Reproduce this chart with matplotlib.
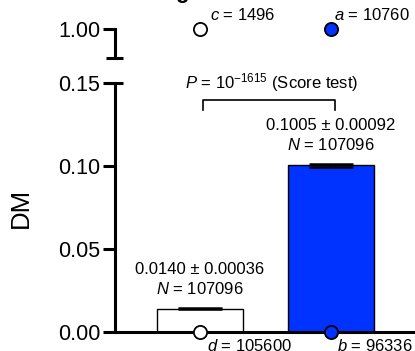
import matplotlib
matplotlib.use("Agg")
import matplotlib.pyplot as plt

plt.rcParams['font.family'] = ['Liberation Sans', 'DejaVu Sans']
plt.rcParams['mathtext.fontset'] = 'custom'
plt.rcParams['mathtext.rm'] = 'Liberation Sans'
plt.rcParams['mathtext.it'] = 'Liberation Sans:italic'

# data
groups = ['white', 'blue']
dm_values = [0.0140, 0.1005]
dm_errors = [0.00036, 0.00092]
n_values = [107096, 107096]
bar_colors = ['white', '#0033ff']
top_labels = ['c', 'a']
top_counts = [1496, 10760]
bottom_labels = ['d', 'b']
bottom_counts = [105600, 96336]
p_text = r'$\it{P}$ = 10$^{\mathrm{-1615}}$ (Score test)'
lower_ticks = [0.00, 0.05, 0.10, 0.15]
upper_ticks = [1.00]

W, H = 415, 351
fig = plt.figure(figsize=(W/100, H/100), dpi=100)

def px_axes(x0, y_top, x1, y_bot):
    return fig.add_axes([x0/W, (H-y_bot)/H, (x1-x0)/W, (y_bot-y_top)/H])

ax = px_axes(115, 83, 415, 332)
ax_top = px_axes(115, 20, 415, 58)

xs = [0, 1]
lw = 2.2
for a in (ax, ax_top):
    for s in ['top', 'right']:
        a.spines[s].set_visible(False)
    a.spines['left'].set_linewidth(lw)
    a.patch.set_alpha(0)
ax.spines['bottom'].set_linewidth(lw)
ax_top.spines['bottom'].set_visible(False)

xlim = (-0.648, 1.641)
ax.set_xlim(*xlim)
ax_top.set_xlim(*xlim)
ax.set_ylim(0, 0.15)
ax_top.set_ylim(0.9, 1.031)
ax_top.spines['left'].set_bounds(0.9, 1.0)

ax.set_xticks([])
ax_top.set_xticks([])
ax.set_yticks(lower_ticks)
ax.set_yticklabels([f'{t:.2f}' for t in lower_ticks])
ax_top.set_yticks(upper_ticks)
ax_top.set_yticklabels([f'{t:.2f}' for t in upper_ticks])
for a in (ax, ax_top):
    a.tick_params(axis='y', length=8.5, width=lw, labelsize=15.5, pad=2)

# break caps
for a, yv in ((ax, 0.15), (ax_top, 0.9)):
    tr = matplotlib.transforms.blended_transform_factory(a.transAxes, a.transData)
    a.plot([-9/300, 8/300], [yv, yv], color='black', lw=lw, transform=tr,
           clip_on=False, solid_capstyle='butt')

ax.set_ylabel('DM', fontsize=18.5, labelpad=18)

bw = 0.65
ax.bar(xs, dm_values, width=bw, color=bar_colors, edgecolor='black', linewidth=1.0, zorder=2)
ax.errorbar(xs, dm_values, yerr=dm_errors, fmt='none', ecolor='black', elinewidth=1.5,
            capsize=15.5, capthick=1.8, zorder=3)

for x, v, e, n in zip(xs, dm_values, dm_errors, n_values):
    ax.annotate(f'{v:.4f} ± {e:.5f}\n' + r'$\it{N}$' + f' = {n}', (x, v + e),
                xytext=(0, 8), textcoords='offset points', ha='center', va='bottom',
                fontsize=12, linespacing=1.3)

# circles
for x, c, lab, cnt, dx in zip(xs, bar_colors, bottom_labels, bottom_counts, [5, 4]):
    ax.plot([x], [0], 'o', ms=9.5, mfc=c, mec='black', mew=1.3, clip_on=False, zorder=5)
    ax.annotate(r'$\it{' + lab + '}$' + f' = {cnt}', (x, 0), xytext=(dx, -4),
                textcoords='offset points', ha='left', va='top', fontsize=12)
for x, c, lab, cnt, dx in zip(xs, bar_colors, top_labels, top_counts, [7, 2]):
    ax_top.plot([x], [1.0], 'o', ms=9.5, mfc=c, mec='black', mew=1.3, clip_on=False, zorder=5)
    ax_top.annotate(r'$\it{' + lab + '}$' + f' = {cnt}', (x, 1.0), xytext=(dx, 4),
                    textcoords='offset points', ha='left', va='bottom', fontsize=12)

# significance bracket
yb = 0.1398
ax.plot([xs[0] + 0.02, xs[0] + 0.02, xs[1] + 0.03, xs[1] + 0.03],
        [yb - 0.006, yb, yb, yb - 0.006], color='black', lw=1.2, clip_on=False)
ax.text((xs[0] + xs[1]) / 2 + 0.05, 0.1505, p_text, ha='center', va='center', fontsize=12)

# cropped title glyph at the top edge
fig.text(0.423, 1.0 + 2/H, 'g', fontsize=16, fontweight='bold', ha='left', va='baseline')

fig.savefig('out.png', dpi=100)
